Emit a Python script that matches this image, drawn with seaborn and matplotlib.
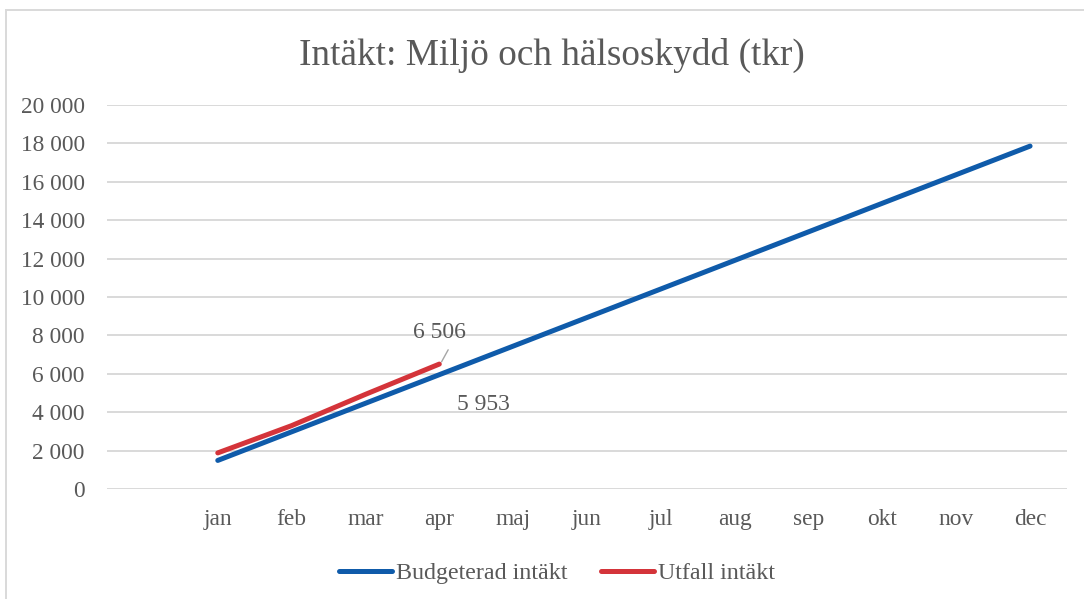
import numpy as np
import pandas as pd
import matplotlib
matplotlib.use("Agg")
import matplotlib.pyplot as plt
import matplotlib.patches as patches
from matplotlib.ticker import FuncFormatter, MultipleLocator
import seaborn as sns

# data (tkr)
months = ["jan", "feb", "mar", "apr", "maj", "jun", "jul", "aug", "sep", "okt", "nov", "dec"]
budget = [1488, 2977, 4465, 5953, 7441, 8930, 10418, 11906, 13394, 14883, 16371, 17859]
utfall = [1880, 3300, 4930, 6506]

BLUE = "#0F5BAA"
RED = "#D4343A"
GREY_TXT = "#595959"
GRID = "#D9D9D9"

sns.set_theme(style="white")
plt.rcParams["font.family"] = ["Liberation Serif", "DejaVu Serif"]

df = pd.concat([
    pd.DataFrame({"pos": np.arange(1, 13), "value": budget, "serie": "Budgeterad intäkt"}),
    pd.DataFrame({"pos": np.arange(1, len(utfall) + 1), "value": utfall, "serie": "Utfall intäkt"}),
])

fig = plt.figure(figsize=(10.84, 5.99), dpi=100)
ax = fig.add_axes([107 / 1084, 1 - 489 / 599, 960 / 1084, 384 / 599])

sns.lineplot(data=df, x="pos", y="value", hue="serie",
             palette={"Budgeterad intäkt": BLUE, "Utfall intäkt": RED},
             linewidth=3.6, ax=ax, legend=False,
             solid_capstyle="round")

ax.set_xlim(-0.5, 12.5)
ax.set_ylim(0, 20000)
ax.yaxis.set_major_locator(MultipleLocator(2000))
ax.yaxis.set_major_formatter(FuncFormatter(lambda v, p: f"{int(v):,}".replace(",", " ")))
ax.set_xticks(np.arange(1, 13))
ax.set_xticklabels(months)
ax.set_xlabel("")
ax.set_ylabel("")
ax.grid(axis="y", color=GRID, linewidth=1.4)
ax.set_axisbelow(True)
for s in ax.spines.values():
    s.set_visible(False)
ax.tick_params(axis="both", length=0, labelsize=16.8, labelcolor=GREY_TXT)
ax.tick_params(axis="y", pad=16)
ax.tick_params(axis="x", pad=14.5)

# data labels
ax.text(4, 8150, f"{utfall[3]:,}".replace(",", " "), ha="center", va="center",
        fontsize=17, color=GREY_TXT)
ax.plot([4.12, 4.03], [7250, 6620], color="#A6A6A6", lw=1)
ax.text(4.6, 4400, f"{budget[3]:,}".replace(",", " "), ha="center", va="center",
        fontsize=17, color=GREY_TXT)

fig.suptitle("Intäkt: Miljö och hälsoskydd (tkr)", x=0.5 + 10 / 1084, y=1 - 55 / 599,
             va="center", fontsize=26.8, color=GREY_TXT)

handles = [plt.Line2D([], [], color=BLUE, lw=3.6, solid_capstyle="round"),
           plt.Line2D([], [], color=RED, lw=3.6, solid_capstyle="round")]
fig.legend(handles, ["Budgeterad intäkt", "Utfall intäkt"], loc="center",
           bbox_to_anchor=(557 / 1084, 1 - 573 / 599), ncol=2, frameon=False,
           fontsize=17.3, labelcolor=GREY_TXT, handlelength=2.2,
           handletextpad=0.15, columnspacing=1.4)

# chart frame
fig.patches.append(patches.Rectangle((6 / 1084, -0.1), 1.2, 1.1 - 10 / 599,
                                     transform=fig.transFigure, fill=False,
                                     edgecolor=GRID, linewidth=1.4))

fig.savefig("out.png", dpi=100, facecolor="white")
